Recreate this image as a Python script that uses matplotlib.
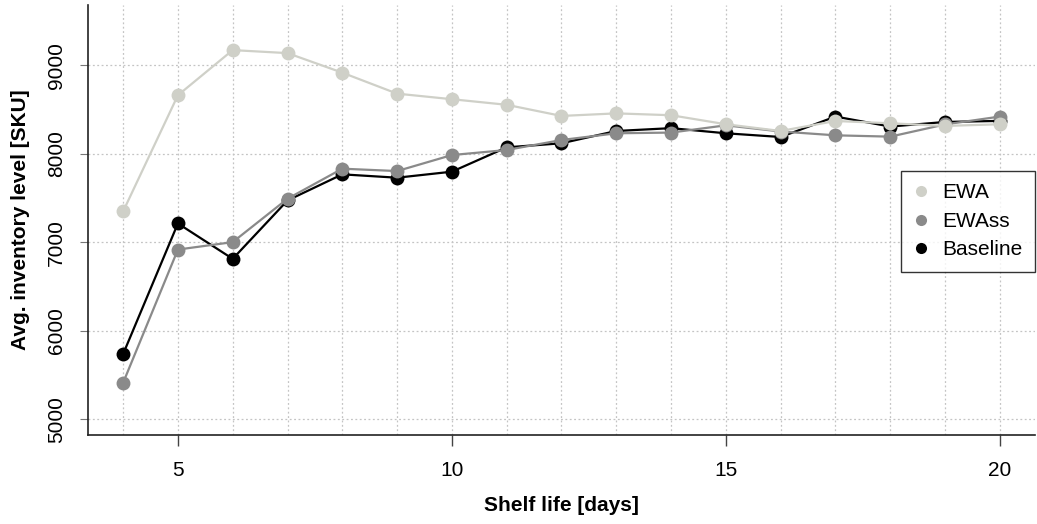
import matplotlib
matplotlib.use("Agg")
import matplotlib.pyplot as plt

shelf_life = list(range(4, 21))
ewa = [7347, 8660, 9170, 9136, 8915, 8678, 8615, 8552, 8426, 8455, 8434,
       8332, 8256, 8369, 8343, 8313, 8332]
ewass = [5410, 6916, 7000, 7490, 7830, 7803, 7984, 8041, 8154, 8230, 8238,
         8320, 8250, 8207, 8192, 8330, 8419]
baseline = [5735, 7211, 6811, 7471, 7766, 7728, 7796, 8071, 8117, 8256, 8288,
            8230, 8188, 8419, 8306, 8358, 8370]

series_names = ["EWA", "EWAss", "Baseline"]
colors = {"EWA": "#cfd0c8", "EWAss": "#8a8a8a", "Baseline": "#000000"}
x_ticks = [5, 10, 15, 20]
y_ticks = [5000, 6000, 7000, 8000, 9000]

plt.rcParams['font.family'] = ['Liberation Sans', 'DejaVu Sans']

fig = plt.figure(figsize=(10.37, 5.24), dpi=100)
ax = fig.add_axes([0.0849, 0.1698, 0.9131, 0.8207])

# grid
for xv in shelf_life:
    ax.axvline(xv, color="#c4c4c4", lw=0.9, ls=(0, (1.5, 2)), zorder=0)
for yv in y_ticks:
    ax.axhline(yv, color="#c4c4c4", lw=0.9, ls=(0, (1.5, 2)), zorder=0)

data = {"EWA": ewa, "EWAss": ewass, "Baseline": baseline}
zorders = {"Baseline": 2, "EWAss": 3, "EWA": 4}
for name in series_names:
    ax.plot(shelf_life, data[name], color=colors[name], lw=1.6, marker="o",
            markersize=10, markeredgewidth=0, zorder=zorders[name])

ax.set_xlim(3.36, 20.64)
ax.set_ylim(4820, 9680)
ax.set_xticks(x_ticks)
ax.set_yticks(y_ticks)
ax.set_yticklabels([str(v) for v in y_ticks], rotation=90, va="center")
ax.tick_params(axis="x", length=8, width=1, color="#444444", labelsize=15, pad=11)
ax.tick_params(axis="y", length=6, width=0.8, color="#777777", labelsize=15, pad=10)

for side in ["top", "right"]:
    ax.spines[side].set_visible(False)
for side in ["left", "bottom"]:
    ax.spines[side].set_linewidth(1.2)
    ax.spines[side].set_color("#222222")

ax.set_xlabel("Shelf life [days]", fontsize=15, fontweight="bold", labelpad=11)
ax.set_ylabel("Avg. inventory level [SKU]", fontsize=15, fontweight="bold", labelpad=12)

handles = [plt.Line2D([], [], ls="none", marker="o", markersize=8,
                      markeredgewidth=0, color=colors[n]) for n in series_names]
leg = ax.legend(handles, series_names, loc="upper right",
                bbox_to_anchor=(1.0, 0.614), fontsize=15, frameon=True,
                fancybox=False, edgecolor="black", handlelength=0.8,
                handletextpad=0.6, borderpad=0.6, labelspacing=0.45,
                borderaxespad=0.0)
leg.get_frame().set_linewidth(1.0)

fig.savefig("out.png", dpi=100)
